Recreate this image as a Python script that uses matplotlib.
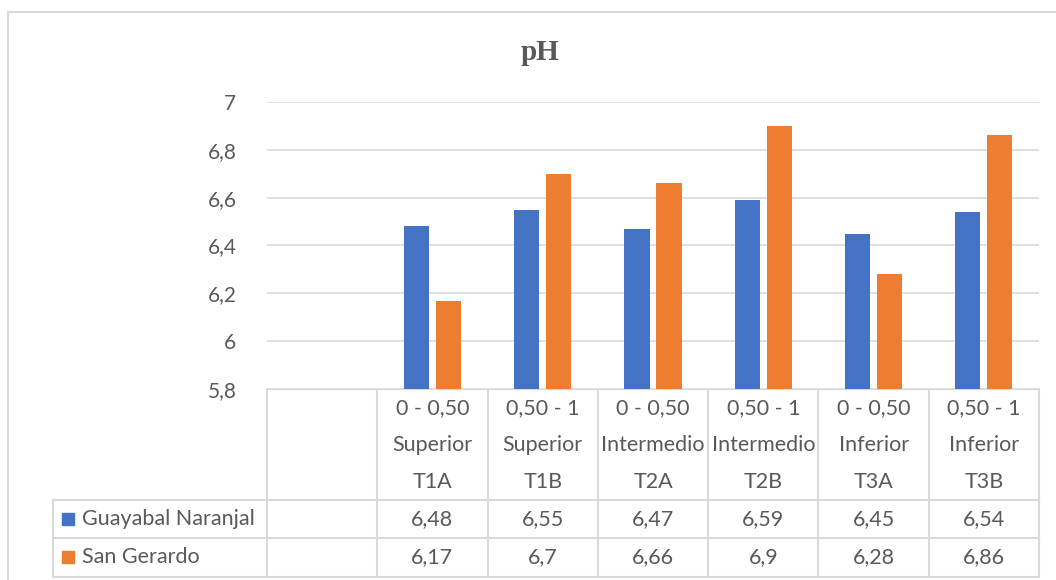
import matplotlib.pyplot as plt
import numpy as np
from matplotlib.patches import Rectangle
from matplotlib.lines import Line2D

plt.rcParams['font.family'] = ['Lato', 'DejaVu Sans']

# data
depth = ["0 - 0,50", "0,50 - 1", "0 - 0,50", "0,50 - 1", "0 - 0,50", "0,50 - 1"]
zone = ["Superior", "Superior", "Intermedio", "Intermedio", "Inferior", "Inferior"]
code = ["T1A", "T1B", "T2A", "T2B", "T3A", "T3B"]
series_names = ["Guayabal Naranjal", "San Gerardo"]
guayabal = [6.48, 6.55, 6.47, 6.59, 6.45, 6.54]
san_gerardo = [6.17, 6.7, 6.66, 6.9, 6.28, 6.86]
yticks = [5.8, 6.0, 6.2, 6.4, 6.6, 6.8, 7.0]

colors = ["#4472C4", "#ED7D31"]
text_c = "#595959"
line_c = "#d9d9d9"

W, H = 1056, 580
fig = plt.figure(figsize=(W / 100, H / 100), dpi=100)

# plot area in pixels (origin top-left)
px_left, px_right, px_top, px_bot = 267, 1039, 102, 389
ax = fig.add_axes([px_left / W, 1 - px_bot / H, (px_right - px_left) / W, (px_bot - px_top) / H])

n_cols = len(code) + 1  # first slot is an empty category
x = np.arange(1, n_cols)
bw = 0.227
off = 0.145
ax.bar(x - off, guayabal, width=bw, color=colors[0], zorder=3)
ax.bar(x + off, san_gerardo, width=bw, color=colors[1], zorder=3)

ax.set_xlim(-0.5, n_cols - 0.5)
ax.set_ylim(5.8, 7.0)
ax.set_yticks(yticks)
ax.set_yticklabels([f"{v:g}".replace(".", ",") for v in yticks], color=text_c, fontsize=15)
ax.tick_params(axis='y', length=0, pad=22)
ax.set_xticks([])
for s in ax.spines.values():
    s.set_visible(False)
ax.yaxis.grid(True, color=line_c, lw=1.2, zorder=0)
ax.set_axisbelow(True)

# overlay in pixel coords for the data table, title and frame
ov = fig.add_axes([0, 0, 1, 1], zorder=-1)
ov.set_xlim(0, W)
ov.set_ylim(H, 0)
ov.axis('off')

# outer chart border
ov.add_line(Line2D([8, W], [12, 12], color=line_c, lw=1.5))
ov.add_line(Line2D([8, 8], [12, H], color=line_c, lw=1.5))

ov.text(540, 53, "pH", family='Liberation Serif', weight='bold', fontsize=21,
        color=text_c, ha='center', va='center')

colw = (px_right - px_left) / n_cols
edges = [px_left + i * colw for i in range(n_cols + 1)]
y_head_bot, y_row1, y_row2 = 500, 538, 577
legend_left = 53

tl = 1.5
ov.add_line(Line2D([px_left, px_right], [px_bot, px_bot], color=line_c, lw=tl))
for yy in (y_head_bot, y_row1, y_row2):
    ov.add_line(Line2D([legend_left, px_right], [yy, yy], color=line_c, lw=tl))
ov.add_line(Line2D([legend_left, legend_left], [y_head_bot, y_row2], color=line_c, lw=tl))
for ex in edges:
    ov.add_line(Line2D([ex, ex], [px_bot, y_row2], color=line_c, lw=tl))

fs = 15.5
for i in range(len(code)):
    cx = (edges[i + 1] + edges[i + 2]) / 2
    for j, t in enumerate([depth[i], zone[i], code[i]]):
        ov.text(cx, 408 + j * 37, t, ha='center', va='center', color=text_c, fontsize=fs)
    ov.text(cx, 519, f"{guayabal[i]:g}".replace(".", ","), ha='center', va='center',
            color=text_c, fontsize=fs)
    ov.text(cx, 557, f"{san_gerardo[i]:g}".replace(".", ","), ha='center', va='center',
            color=text_c, fontsize=fs)

for k, (name, yy) in enumerate(zip(series_names, [519, 557])):
    ov.add_patch(Rectangle((62, yy - 6), 12, 12, color=colors[k]))
    ov.text(82, yy, name, ha='left', va='center', color=text_c, fontsize=fs)

fig.savefig("out.png", dpi=100)
